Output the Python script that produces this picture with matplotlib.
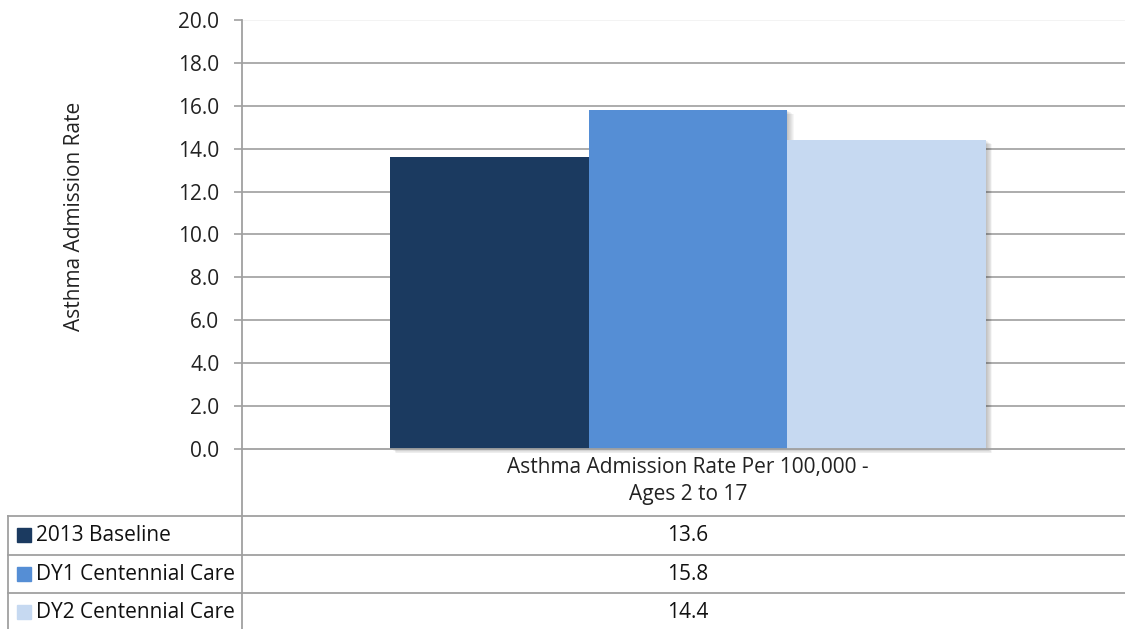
import matplotlib
matplotlib.use("Agg")
import matplotlib.pyplot as plt
import matplotlib.transforms as mtransforms
from matplotlib.lines import Line2D
from matplotlib.patches import Rectangle

plt.rcParams['font.family'] = ['Open Sans', 'DejaVu Sans']

# ---- data ----
category = "Asthma Admission Rate Per 100,000 -\nAges 2 to 17"
series_names = ["2013 Baseline", "DY1 Centennial Care", "DY2 Centennial Care"]
series_values = [13.6, 15.8, 14.4]
value_labels = ["13.6", "15.8", "14.4"]
colors = ["#1B3A60", "#558ED5", "#C6D9F1"]
yticks = [0, 2, 4, 6, 8, 10, 12, 14, 16, 18, 20]
ylabel = "Asthma Admission Rate"

FS = 15
W, H = 1125, 629
fig = plt.figure(figsize=(W / 100, H / 100), dpi=100)

def fx(px):
    return px / W

def fy(py):
    return 1 - py / H

ax_l, ax_r, ax_t, ax_b = 242, 1125, 20, 449
ax = fig.add_axes([fx(ax_l), fy(ax_b), fx(ax_r - ax_l), (ax_b - ax_t) / H])

# bar geometry: bars span px 390..986
bar_w_px = (986 - 390) / 3
x0 = -0.5 - (390 - ax_l) / bar_w_px
x1 = 2.5 + (ax_r - 986) / bar_w_px
ax.set_xlim(x0, x1)
ax.set_ylim(0, 20)

xs = list(range(len(series_values)))

# soft shadows
for k in range(1, 8):
    tr = mtransforms.offset_copy(ax.transData, fig=fig, x=k * 0.9, y=-k * 0.6, units='dots')
    ax.bar(xs, series_values, width=1.0, color='black', alpha=0.035,
           transform=tr, zorder=1, clip_on=False, linewidth=0)

ax.bar(xs, series_values, width=1.0, color=colors, zorder=3, linewidth=0)

# grid
for t in yticks[1:]:
    ax.axhline(t, color='#A6A6A6' if t < 20 else '#F2F2F2', lw=1.3, zorder=0)

ax.set_yticks(yticks)
ax.set_yticklabels([f"{t:.1f}" for t in yticks], fontsize=FS, color='#222222')
ax.tick_params(axis='y', length=5.8, width=1.2, color='#A0A0A0', pad=10.5)
ax.set_xticks([])
for s in ['top', 'right']:
    ax.spines[s].set_visible(False)
ax.spines['left'].set_color('#A0A0A0')
ax.spines['left'].set_linewidth(1.3)
ax.spines['bottom'].set_color('#A0A0A0')
ax.spines['bottom'].set_linewidth(1.3)
ax.spines['bottom'].set_zorder(4)

# y label
fig.text(fx(75), fy(216), ylabel, rotation=90, ha='center', va='center',
         fontsize=FS, color='#222222')

# category label
cat_x = ax.transData.transform((1, 0))[0] / W
fig.text(cat_x, fy(481), category, ha='center', va='center', fontsize=FS,
         color='#222222', linespacing=1.33)

# data table lines
lc = '#A0A0A0'
fig.add_artist(Line2D([fx(242), fx(242)], [fy(449), 0], color=lc, lw=1.3))
fig.add_artist(Line2D([fx(8), fx(8)], [fy(516), 0], color=lc, lw=1.3))
row_tops = [516, 555, 593]
for y in row_tops:
    fig.add_artist(Line2D([fx(8), 1], [fy(y), fy(y)], color=lc, lw=1.3))

row_h = 38.5
for i, (name, lab, c) in enumerate(zip(series_names, value_labels, colors)):
    yc = row_tops[i] + row_h / 2
    fig.add_artist(Rectangle((fx(17), fy(yc + 7)), fx(14), 14 / H, color=c,
                             transform=fig.transFigure))
    fig.text(fx(36), fy(yc), name, ha='left', va='center', fontsize=FS, color='#111111')
    fig.text(cat_x, fy(yc), lab, ha='center', va='center', fontsize=FS, color='#111111')

fig.savefig("out.png", dpi=100)
